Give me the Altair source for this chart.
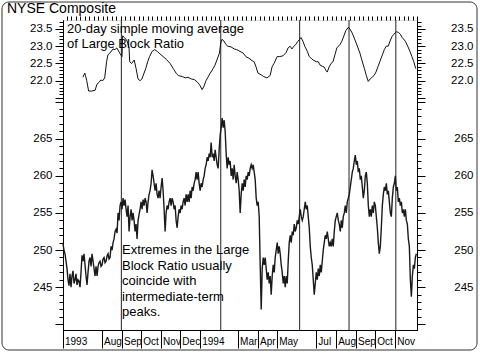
import altair as alt
import pandas as pd

# ---------------- data ----------------
title_text = "NYSE Composite"
ma_note = ["20-day simple moving average", "of Large Block Ratio"]
peak_note = ["Extremes in the Large", "Block Ratio usually", "coincide with",
             "intermediate-term", "peaks."]

# daily NYSE Composite (evenly spaced from start to end)
price_start = "1993-06-01"
price_end = "1994-12-04"
price_values = [
    250.8, 250.0, 249.5, 248.5, 247.5, 246.0, 245.2, 246.8, 245.0, 246.5,
    247.2, 245.5, 246.0, 246.8, 245.3, 246.0, 245.8, 245.0, 247.0, 249.3,
    248.5, 249.5, 248.0, 246.5, 245.3, 247.0, 248.5, 249.0, 247.8, 249.5,
    248.5, 247.5, 246.5, 247.8, 246.5, 247.8, 248.3, 248.5, 247.8, 248.0,
    248.8, 249.0, 248.3, 248.5, 249.2, 249.5, 248.8, 249.0, 250.5, 250.0,
    251.0, 251.5, 252.5, 252.8, 252.3, 255.0, 254.0, 256.0, 256.5, 255.5,
    257.0, 256.0, 256.8, 255.5, 254.5, 256.0, 252.5, 254.5, 255.5, 254.0,
    255.0, 254.0, 252.5, 253.5, 251.5, 254.0, 254.8, 255.5, 256.5, 255.5,
    256.8, 256.0, 257.0, 256.5, 255.0, 256.5, 257.5, 258.0, 259.0, 260.8,
    260.0, 259.0, 258.0, 259.0, 257.5, 257.0, 258.0, 257.0, 258.5, 259.7,
    258.0, 255.5, 252.5, 255.0, 256.0, 255.5, 256.5, 257.0, 256.0, 257.0,
    256.5, 255.5, 256.0, 254.0, 253.0, 254.5, 255.5, 255.0, 256.0, 255.5,
    256.5, 257.0, 256.0, 257.5, 256.5, 257.5, 256.5, 258.0, 257.0, 258.5,
    258.0, 259.0, 259.5, 260.5, 259.5, 260.5, 259.0, 258.0, 259.0, 258.5,
    259.5, 260.0, 261.0, 261.5, 262.5, 262.0, 263.0, 262.5, 264.5, 262.5,
    263.0, 262.0, 263.5, 262.5, 261.5, 261.0, 263.5, 265.5, 266.5, 267.8,
    266.5, 267.5, 266.0, 263.0, 261.0, 262.5, 261.5, 262.0, 260.0, 261.0,
    259.5, 261.5, 260.0, 259.0, 260.5, 259.5, 258.0, 255.0, 257.5, 259.0,
    258.0, 259.5, 258.5, 260.0, 259.5, 260.5, 260.0, 261.0, 261.5, 261.0,
    261.5, 260.5, 259.5, 257.0, 256.0, 256.5, 254.5, 248.0, 242.0, 247.5,
    249.0, 248.0, 249.0, 247.5, 246.0, 247.0, 245.5, 246.5, 244.0, 246.5,
    248.0, 247.0, 249.0, 250.0, 251.0, 249.5, 250.5, 249.5, 248.0, 247.0,
    245.5, 246.5, 245.0, 246.5, 245.5, 248.5, 251.0, 252.0, 251.0, 252.5,
    252.0, 253.5, 252.5, 253.0, 254.0, 253.5, 254.5, 255.5, 254.5, 254.0,
    254.5, 255.5, 256.5, 255.5, 256.0, 254.5, 253.0, 250.5, 249.0, 248.0,
    246.0, 244.0, 245.5, 247.0, 246.0, 247.5, 246.5, 248.0, 247.0, 248.5,
    250.0, 251.0, 252.0, 251.5, 252.5, 251.5, 250.5, 251.0, 250.5, 251.5,
    250.5, 252.5, 254.0, 254.5, 255.0, 254.0, 253.5, 252.5, 254.0, 253.0,
    254.5, 255.0, 256.0, 255.0, 256.5, 257.0, 257.5, 258.5, 259.5, 260.5,
    261.0, 262.0, 262.8, 261.5, 262.0, 260.5, 261.0, 259.5, 260.0, 258.5,
    257.0, 258.0, 260.0, 260.5, 259.0, 256.0, 254.5, 255.5, 254.5, 256.0,
    255.0, 256.5, 256.0, 254.5, 253.0, 251.0, 249.5, 250.5, 253.0, 256.0,
    257.5, 258.5, 258.0, 259.0, 257.5, 258.0, 256.5, 255.0, 254.5, 257.0,
    258.5, 259.0, 260.0, 258.0, 258.5, 256.5, 257.0, 256.0, 256.5, 255.0,
    255.5, 254.5, 255.5, 254.0, 253.5, 251.5, 250.5, 246.0, 243.7, 246.5,
    248.0, 247.5, 249.0, 249.5,
]

# 20-day simple moving average of Large Block Ratio
ma_dates = [
    "1993-07-02", "1993-07-05", "1993-07-06", "1993-07-08", "1993-07-11",
    "1993-07-16", "1993-07-21", "1993-07-24", "1993-07-27", "1993-07-30",
    "1993-08-02", "1993-08-05", "1993-08-08", "1993-08-10", "1993-08-13",
    "1993-08-18", "1993-08-21", "1993-08-24", "1993-08-29", "1993-09-01",
    "1993-09-02", "1993-09-05", "1993-09-09", "1993-09-12", "1993-09-13",
    "1993-09-16", "1993-09-20", "1993-09-23", "1993-09-26", "1993-09-29",
    "1993-10-02", "1993-10-05", "1993-10-08", "1993-10-11", "1993-10-14",
    "1993-10-18", "1993-10-22", "1993-10-26", "1993-10-30", "1993-11-04",
    "1993-11-09", "1993-11-15", "1993-11-20", "1993-11-25", "1993-11-28",
    "1993-12-04", "1993-12-09", "1993-12-13", "1993-12-18", "1993-12-23",
    "1993-12-28", "1993-12-31", "1994-01-04", "1994-01-07", "1994-01-10",
    "1994-01-13", "1994-01-16", "1994-01-21", "1994-01-24", "1994-01-27",
    "1994-01-31", "1994-02-02", "1994-02-04", "1994-02-07", "1994-02-10",
    "1994-02-13", "1994-02-18", "1994-02-23", "1994-02-27", "1994-03-04",
    "1994-03-09", "1994-03-13", "1994-03-18", "1994-03-23", "1994-03-26",
    "1994-03-29", "1994-04-01", "1994-04-06", "1994-04-10", "1994-04-15",
    "1994-04-20", "1994-04-23", "1994-04-26", "1994-05-01", "1994-05-05",
    "1994-05-10", "1994-05-15", "1994-05-18", "1994-05-21", "1994-05-24",
    "1994-05-27", "1994-05-30", "1994-06-02", "1994-06-06", "1994-06-07",
    "1994-06-10", "1994-06-13", "1994-06-17", "1994-06-20", "1994-06-23",
    "1994-06-26", "1994-07-01", "1994-07-04", "1994-07-07", "1994-07-10",
    "1994-07-13", "1994-07-16", "1994-07-18", "1994-07-21", "1994-07-24",
    "1994-07-27", "1994-07-30", "1994-08-02", "1994-08-07", "1994-08-10",
    "1994-08-13", "1994-08-16", "1994-08-20", "1994-08-23", "1994-08-26",
    "1994-08-31", "1994-09-04", "1994-09-07", "1994-09-10", "1994-09-14",
    "1994-09-17", "1994-09-20", "1994-09-23", "1994-09-26", "1994-09-29",
    "1994-10-02", "1994-10-05", "1994-10-08", "1994-10-12", "1994-10-15",
    "1994-10-18", "1994-10-21", "1994-10-24", "1994-10-27", "1994-10-30",
    "1994-11-03", "1994-11-06", "1994-11-09", "1994-11-12", "1994-11-17",
    "1994-11-21", "1994-11-24", "1994-11-27", "1994-11-30", "1994-12-03",
]
ma_values = [
    22.10, 22.22, 22.15, 22.00, 21.70, 21.70, 21.72, 21.90, 21.95, 22.02,
    22.00, 22.08, 22.55, 22.75, 22.80, 22.92, 22.90, 22.95, 22.78, 22.70,
    23.30, 23.25, 23.15, 22.95, 22.55, 22.50, 22.60, 22.35, 22.05, 22.00,
    22.05, 22.20, 22.35, 22.55, 22.70, 22.85, 22.90, 22.85, 22.78, 22.70,
    22.62, 22.50, 22.35, 22.20, 22.15, 22.12, 22.08, 22.10, 22.05, 22.03,
    21.95, 21.88, 21.74, 21.85, 22.00, 22.10, 22.20, 22.35, 22.45, 22.60,
    22.80, 23.10, 23.20, 23.15, 23.05, 23.00, 22.98, 22.92, 22.90, 22.85,
    22.80, 22.70, 22.65, 22.58, 22.55, 22.40, 22.22, 22.17, 22.12, 22.08,
    22.15, 22.40, 22.50, 22.70, 22.70, 22.72, 22.82, 22.95, 23.00, 22.92,
    23.00, 23.05, 23.14, 23.22, 23.25, 23.15, 23.00, 22.85, 22.70, 22.65,
    22.60, 22.55, 22.55, 22.45, 22.42, 22.40, 22.30, 22.25, 22.40, 22.50,
    22.55, 22.75, 22.95, 23.05, 23.15, 23.30, 23.45, 23.55, 23.48, 23.38,
    23.15, 22.95, 22.80, 22.60, 22.35, 22.15, 21.98, 22.05, 22.10, 22.15,
    22.25, 22.40, 22.55, 22.75, 22.90, 23.00, 23.00, 23.15, 23.28, 23.35,
    23.42, 23.40, 23.35, 23.25, 23.14, 22.98, 22.85, 22.70, 22.55, 22.35,
]

marker_dates = ["1993-08-31", "1994-02-02", "1994-06-05", "1994-08-21", "1994-11-02"]

x_domain = ["1993-06-01", "1994-12-05"]
month_tick_dates = ["1993-06-01", "1993-08-01", "1993-09-01", "1993-10-01", "1993-11-01",
                    "1993-12-01", "1994-01-01", "1994-03-01", "1994-04-01", "1994-05-01",
                    "1994-07-01", "1994-08-01", "1994-09-01", "1994-10-01", "1994-11-01"]
month_tick_labels = ["1993", "Aug", "Sep", "Oct", "Nov", "Dec", "1994", "Mar", "Apr",
                     "May", "Jul", "Aug", "Sep", "Oct", "Nov"]

ma_domain = [14.77, 23.76]
price_domain = [239.23, 281.0]
ma_tick_range = (215, 237)      # tenths: 21.5 .. 23.7
ma_label_range = (22.0, 23.5)
price_tick_range = (240, 270)
price_label_range = (245, 265)

# ---------------- build ----------------
W, H = 354, 310
FONT = "Liberation Sans"


def dt(s):
    t = pd.Timestamp(s)
    return alt.DateTime(year=t.year, month=t.month, date=t.day)


price_df = pd.DataFrame({
    "date": pd.date_range(price_start, price_end, periods=len(price_values)),
    "v": price_values,
})
ma_df = pd.DataFrame({"date": pd.to_datetime(ma_dates), "v": ma_values})
mark_df = pd.DataFrame({"date": pd.to_datetime(marker_dates)})
one = pd.DataFrame({"a": [0]})

xscale = alt.Scale(domain=[dt(d) for d in x_domain], nice=False)

ma_ticks = [round(i / 10, 1) for i in range(ma_tick_range[0], ma_tick_range[1] + 1)]
price_ticks = list(range(price_tick_range[0], price_tick_range[1] + 1))

ma_major = "abs(datum.value*2 - round(datum.value*2)) < 0.001"
ma_lab = (f"{ma_major} && datum.value > {ma_label_range[0] - 0.01} "
          f"&& datum.value < {ma_label_range[1] + 0.01}")
price_major = "datum.value % 5 == 0"
price_lab = (f"{price_major} && datum.value >= {price_label_range[0]} "
             f"&& datum.value <= {price_label_range[1]}")


def yaxis(orient, values, major, lab, fmt):
    right = orient == "right"
    return alt.Axis(
        orient=orient, values=values, grid=False, domain=True, domainColor="black",
        tickColor="black",
        tickSize={"condition": {"test": major, "value": 8}, "value": 4},
        labelExpr=f"({lab}) ? format(datum.value, '{fmt}') : ''",
        labelFont=FONT, labelFontSize=11.5, labelColor="black",
        labelAlign="right", labelPadding=(48 if right else 3),
        labelOverlap=False, labelBound=False, labelFlush=False, title=None,
    )


xnone = alt.X("date:T", scale=xscale, axis=None)

ma_left = alt.Chart(ma_df).mark_line(color="#111", strokeWidth=1).encode(
    x=xnone,
    y=alt.Y("v:Q", scale=alt.Scale(domain=ma_domain, zero=False, nice=False),
            axis=yaxis("left", ma_ticks, ma_major, ma_lab, ".1f")),
)
ma_right = alt.Chart(ma_df).mark_line(opacity=0).encode(
    x=xnone,
    y=alt.Y("v:Q", scale=alt.Scale(domain=ma_domain, zero=False, nice=False),
            axis=yaxis("right", ma_ticks, ma_major, ma_lab, ".1f")),
)
price_left = alt.Chart(price_df).mark_line(color="#1a1a1a", strokeWidth=1.4).encode(
    x=xnone,
    y=alt.Y("v:Q", scale=alt.Scale(domain=price_domain, zero=False, nice=False),
            axis=yaxis("left", price_ticks, price_major, price_lab, "d")),
)
price_right = alt.Chart(price_df).mark_line(opacity=0).encode(
    x=xnone,
    y=alt.Y("v:Q", scale=alt.Scale(domain=price_domain, zero=False, nice=False),
            axis=yaxis("right", price_ticks, price_major, price_lab, "d")),
)

# x axis label expression built from the label arrays
expr = "''"
for d, lab in reversed(list(zip(month_tick_dates, month_tick_labels))):
    expr = f"timeFormat(datum.value, '%Y-%m-%d') == '{d}' ? '{lab}' : ({expr})"

major_axis = alt.Axis(
    values=[dt(d) for d in month_tick_dates], labelExpr=expr, grid=False, domain=True,
    domainColor="black", tickColor="black", tickSize=18, labelAlign="left",
    labelBaseline="top", labelPadding=-12, labelOffset=1.5, labelFont=FONT,
    labelFontSize=10, labelColor="black", labelOverlap=False, labelFlush=False,
    labelBound=False, title=None,
)
minor_vals = [dt(d) for d in pd.date_range("1993-06-07", "1994-12-05", freq="7D")]
minor_axis = alt.Axis(values=minor_vals, labels=False, grid=False, domain=False,
                      tickColor="black", tickSize=4, title=None)

markers = alt.Chart(mark_df).mark_rule(color="#222", strokeWidth=1).encode(
    x=alt.X("date:T", scale=xscale, axis=major_axis)
)
markers_minor = alt.Chart(mark_df).mark_rule(opacity=0).encode(
    x=alt.X("date:T", scale=xscale, axis=minor_axis)
)

frame = alt.Chart(one).mark_rect(fill="transparent", stroke="#333", strokeWidth=1,
                                 cornerRadius=7).encode(
    x=alt.value(-61), x2=alt.value(414), y=alt.value(-18), y2=alt.value(330)
)
title = alt.Chart(one).mark_text(text=title_text, align="left", baseline="alphabetic",
                                 font=FONT, fontSize=14, color="black").encode(
    x=alt.value(-56), y=alt.value(-7)
)
note1 = alt.Chart(one).mark_text(text=ma_note, align="left", baseline="alphabetic",
                                 font=FONT, fontSize=13, lineHeight=15, color="black").encode(
    x=alt.value(4), y=alt.value(13)
)
note2 = alt.Chart(one).mark_text(text=peak_note, align="left", baseline="alphabetic",
                                 font=FONT, fontSize=13, lineHeight=15.6, color="black").encode(
    x=alt.value(59), y=alt.value(234)
)

chart = alt.layer(
    frame, markers, markers_minor, ma_left, ma_right, price_left, price_right,
    title, note1, note2,
).resolve_scale(y="independent").resolve_axis(x="independent", y="independent").properties(
    width=W, height=H,
    autosize=alt.AutoSizeParams(type="none"),
    padding={"left": 63, "top": 20, "right": 63, "bottom": 23},
).configure_view(stroke="black", strokeWidth=1).configure(background="white")

chart.save("out.html", embed_options={"renderer": "svg", "actions": False})
